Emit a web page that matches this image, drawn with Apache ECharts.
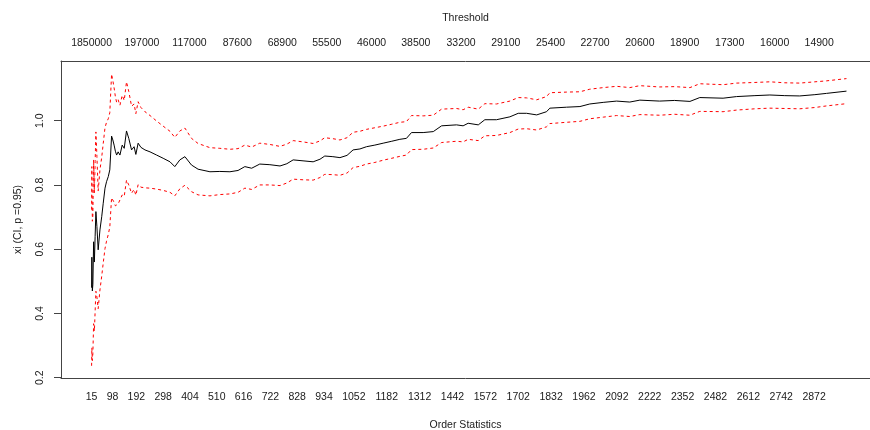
<!DOCTYPE html>
<html>
<head>
<meta charset="utf-8">
<script src="https://cdn.jsdelivr.net/npm/echarts@6/dist/echarts.min.js"></script>
<style>
html,body{margin:0;padding:0;background:#fff;}
#chart{width:870px;height:430px;}
</style>
</head>
<body>
<div id="chart"></div>
<script>
// Order statistics (k) at which the Hill estimate was read
const orderStat = [15,16,18,20,23,26,29,32,36,41,48,55,61,68,74,81,87,94,99,104,109,114,120,127,136,144,153,162,173,183,190,199,210,226,246,272,298,325,344,364,384,410,436,483,522,562,594,621,648,680,720,760,787,812,851,891,918,937,969,997,1025,1049,1076,1102,1135,1168,1202,1234,1260,1280,1326,1366,1399,1458,1484,1504,1544,1570,1616,1669,1702,1735,1775,1814,1827,1893,1946,1985,2038,2091,2143,2183,2261,2320,2381,2420,2512,2565,2638,2697,2756,2815,2875,2921,3000];
// xi estimate
const xiEst = [0.480,0.575,0.470,0.490,0.623,0.560,0.640,0.717,0.670,0.598,0.660,0.701,0.743,0.790,0.810,0.826,0.847,0.952,0.940,0.924,0.905,0.893,0.903,0.893,0.924,0.914,0.968,0.945,0.909,0.919,0.895,0.930,0.917,0.909,0.903,0.893,0.883,0.872,0.857,0.878,0.888,0.862,0.849,0.841,0.842,0.841,0.845,0.857,0.852,0.865,0.863,0.859,0.866,0.878,0.875,0.872,0.880,0.890,0.888,0.885,0.892,0.909,0.912,0.919,0.924,0.930,0.936,0.942,0.945,0.963,0.963,0.966,0.984,0.987,0.984,0.992,0.987,1.003,1.003,1.012,1.023,1.023,1.018,1.028,1.039,1.042,1.044,1.052,1.057,1.061,1.058,1.064,1.061,1.063,1.060,1.072,1.070,1.075,1.078,1.080,1.078,1.077,1.081,1.085,1.092];
// upper confidence bound (p = 0.95)
const ciUpper = [0.723,0.857,0.687,0.705,0.878,0.775,0.873,0.965,0.889,0.781,0.847,0.886,0.929,0.978,0.995,1.006,1.025,1.145,1.125,1.102,1.075,1.057,1.065,1.048,1.079,1.063,1.121,1.091,1.045,1.052,1.022,1.059,1.041,1.028,1.016,0.999,0.983,0.967,0.948,0.968,0.977,0.945,0.929,0.916,0.914,0.911,0.913,0.924,0.918,0.930,0.926,0.920,0.927,0.938,0.934,0.929,0.937,0.947,0.944,0.940,0.947,0.964,0.967,0.973,0.978,0.983,0.989,0.995,0.997,1.016,1.015,1.017,1.036,1.038,1.034,1.042,1.036,1.053,1.052,1.061,1.072,1.071,1.065,1.075,1.087,1.089,1.090,1.098,1.103,1.107,1.103,1.109,1.105,1.106,1.103,1.115,1.112,1.117,1.119,1.121,1.118,1.117,1.121,1.124,1.131];
// lower confidence bound (p = 0.95)
const ciLower = [0.237,0.293,0.253,0.275,0.368,0.345,0.407,0.469,0.451,0.415,0.473,0.516,0.557,0.602,0.625,0.646,0.669,0.760,0.755,0.746,0.735,0.729,0.741,0.738,0.769,0.765,0.815,0.800,0.774,0.786,0.768,0.801,0.793,0.791,0.790,0.787,0.783,0.777,0.766,0.788,0.799,0.779,0.769,0.766,0.770,0.772,0.777,0.790,0.786,0.800,0.800,0.798,0.806,0.818,0.816,0.815,0.823,0.833,0.832,0.830,0.837,0.854,0.858,0.865,0.870,0.877,0.883,0.889,0.893,0.910,0.911,0.915,0.932,0.936,0.934,0.942,0.938,0.953,0.954,0.963,0.974,0.975,0.971,0.981,0.991,0.995,0.998,1.006,1.011,1.016,1.013,1.019,1.017,1.020,1.017,1.029,1.028,1.033,1.037,1.039,1.038,1.037,1.041,1.046,1.053];

// bottom axis labels (order statistics)
const bottomTicks = [15,98,192,298,404,510,616,722,828,934,1052,1182,1312,1442,1572,1702,1832,1962,2092,2222,2352,2482,2612,2742,2872];
// top axis: positions (order statistic) and threshold labels
const topTickPos = [15,214,402,591,769,945,1122,1297,1476,1653,1830,2006,2183,2360,2538,2716,2892];
const topTickLabels = ['1850000','197000','117000','87600','68900','55500','46000','38500','33200','29100','25400','22700','20600','18900','17300','16000','14900'];
// y axis ticks
const yTicks = [0.2,0.4,0.6,0.8,1.0];

const FONT = 'Liberation Sans, Arial, Helvetica, sans-serif';
const TXT = '#1a1a1a';
const AX = '#444';

const chart = echarts.init(document.getElementById('chart'), null, {renderer:'canvas'});
const toPairs = arr => orderStat.map((k,i)=>[k, arr[i]]);

chart.setOption({
  animation:false,
  backgroundColor:'#fff',
  grid:{left:61, right:0, top:61, bottom:52, containLabel:false, outerBoundsMode:'none'},
  xAxis:[{
    type:'value', position:'bottom', min:-106, max:3093,
    axisLine:{show:true, onZero:false, lineStyle:{color:AX, width:1}},
    axisTick:{show:false},
    splitLine:{show:false},
    axisLabel:{customValues:bottomTicks, fontSize:10.5, color:TXT, fontFamily:FONT, margin:14,
      formatter:v=>String(v)},
    name:'Order Statistics', nameLocation:'middle', nameGap:42,
    nameTextStyle:{fontSize:10.5, color:TXT, fontFamily:FONT}
  },{
    type:'value', position:'top', min:-106, max:3093,
    axisLine:{show:true, onZero:false, lineStyle:{color:AX, width:1}},
    axisTick:{show:false},
    splitLine:{show:false},
    axisLabel:{customValues:topTickPos, fontSize:10.5, color:TXT, fontFamily:FONT, margin:12,
      formatter:v=>{const i=topTickPos.indexOf(v); return i>=0?topTickLabels[i]:'';}},
    name:'Threshold', nameLocation:'middle', nameGap:37,
    nameTextStyle:{fontSize:10.5, color:TXT, fontFamily:FONT}
  }],
  yAxis:{
    type:'value', min:0.199, max:1.1858,
    axisLine:{show:true, onZero:false, lineStyle:{color:AX, width:1}},
    axisTick:{show:true, inside:false, length:7, customValues:yTicks, lineStyle:{color:AX}},
    splitLine:{show:false},
    axisLabel:{customValues:yTicks, rotate:90, fontSize:10.5, color:TXT, fontFamily:FONT, margin:15,
      formatter:v=>v.toFixed(1)},
    name:'xi (CI, p =0.95)', nameLocation:'middle', nameGap:37, nameRotate:90,
    nameTextStyle:{fontSize:10.5, color:TXT, fontFamily:FONT}
  },
  series:[{
    type:'line', data:toPairs(xiEst), xAxisIndex:0, showSymbol:false, symbol:'none',
    lineStyle:{color:'#000', width:1}, z:3
  },{
    type:'line', data:toPairs(ciUpper), xAxisIndex:0, showSymbol:false, symbol:'none',
    lineStyle:{color:'#ff0000', width:1, type:[3,3]}, z:4
  },{
    type:'line', data:toPairs(ciLower), xAxisIndex:0, showSymbol:false, symbol:'none',
    lineStyle:{color:'#ff0000', width:1, type:[3,3]}, z:4
  }]
});
</script>
</body>
</html>
